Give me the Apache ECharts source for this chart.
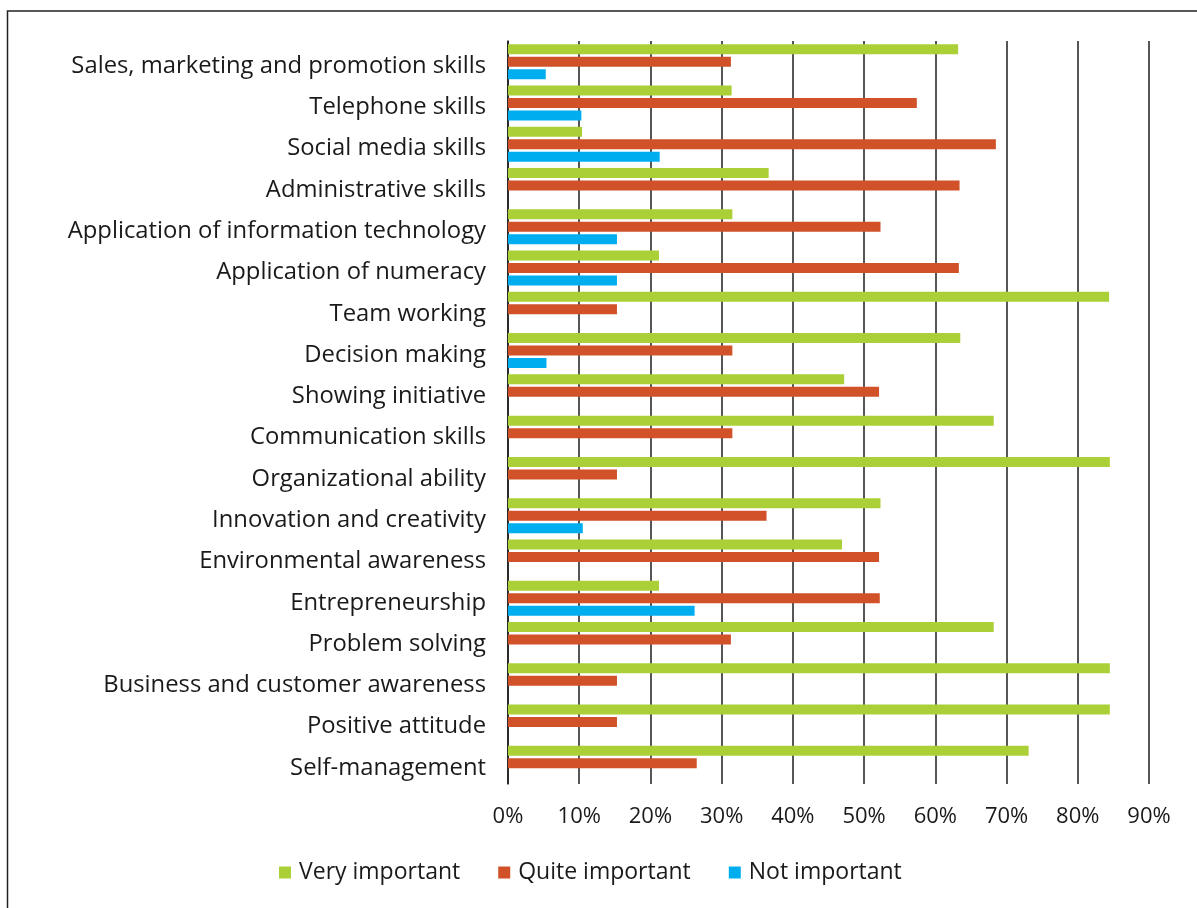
<!DOCTYPE html>
<html>
<head>
<meta charset="utf-8">
<title>Importance of skills</title>
<script src="https://cdn.jsdelivr.net/npm/echarts@6/dist/echarts.min.js"></script>
<style>
  html, body { margin: 0; padding: 0; background: #ffffff; }
  #chart { width: 1197px; height: 908px; }
</style>
</head>
<body>
<div id="chart"></div>
<script>
// Skill categories, listed top to bottom
const categories = [
  'Sales, marketing and promotion skills',
  'Telephone skills',
  'Social media skills',
  'Administrative skills',
  'Application of information technology',
  'Application of numeracy',
  'Team working',
  'Decision making',
  'Showing initiative',
  'Communication skills',
  'Organizational ability',
  'Innovation and creativity',
  'Environmental awareness',
  'Entrepreneurship',
  'Problem solving',
  'Business and customer awareness',
  'Positive attitude',
  'Self-management'
];

// Share of responses (%) per rating
const veryImportant  = [63.2, 31.4, 10.4, 36.6, 31.5, 21.2, 84.4, 63.5, 47.2, 68.2, 84.5, 52.3, 46.9, 21.2, 68.2, 84.5, 84.5, 73.1];
const quiteImportant = [31.3, 57.4, 68.5, 63.4, 52.3, 63.3, 15.3, 31.5, 52.1, 31.5, 15.3, 36.3, 52.1, 52.2, 31.3, 15.3, 15.3, 26.5];
const notImportant   = [5.3, 10.3, 21.3, null, 15.3, 15.3, null, 5.4, null, null, null, 10.5, null, 26.2, null, null, null, null];

const seriesNames = ['Very important', 'Quite important', 'Not important'];
const seriesColors = ['#ABD037', '#D15128', '#00AEEF'];
const seriesData = [veryImportant, quiteImportant, notImportant];

const FONT = '"Open Sans", Lato, sans-serif';
const TEXT = '#1a1a1a';

const chart = echarts.init(document.getElementById('chart'), null, { renderer: 'canvas' });

chart.setOption({
  animation: false,
  backgroundColor: '#ffffff',
  textStyle: { fontFamily: FONT, color: TEXT },
  grid: { left: 508, right: 48, top: 41, bottom: 124, containLabel: false },
  legend: {
    data: seriesNames,
    left: 274,
    top: 856,
    icon: 'rect',
    itemWidth: 12,
    itemHeight: 12,
    itemGap: 38,
    textStyle: { fontFamily: FONT, fontSize: 23, color: TEXT, padding: [0, 0, 0, 3] }
  },
  xAxis: {
    type: 'value',
    min: 0,
    max: 90,
    interval: 10,
    axisLine: { show: false },
    axisTick: { show: false },
    axisLabel: {
      formatter: '{value}%',
      fontFamily: FONT,
      fontSize: 22,
      color: TEXT,
      margin: 22
    },
    splitLine: { show: true, lineStyle: { color: '#1e1e1e', width: 1.5 } }
  },
  yAxis: {
    type: 'category',
    data: categories,
    inverse: true,
    axisLine: { show: true, lineStyle: { color: '#1e1e1e', width: 1.5 } },
    axisTick: { show: false },
    axisLabel: {
      margin: 22,
      // label text sits a little below the centre of its row
      formatter: (v) => '{c|' + v + '}',
      rich: {
        c: { fontFamily: FONT, fontSize: 23.8, color: TEXT, padding: [9, 0, 0, 0] }
      }
    },
    splitLine: { show: false }
  },
  graphic: [{
    type: 'polyline',
    silent: true,
    shape: { points: [[7.5, 908], [7.5, 11], [1197, 11]] },
    style: { stroke: '#222222', lineWidth: 1.5, fill: null }
  }],
  series: seriesNames.map((name, i) => ({
    name: name,
    type: 'bar',
    data: seriesData[i],
    barWidth: 10,
    barGap: '25%',
    itemStyle: { color: seriesColors[i] },
    z: 1
  }))
});
</script>
</body>
</html>
